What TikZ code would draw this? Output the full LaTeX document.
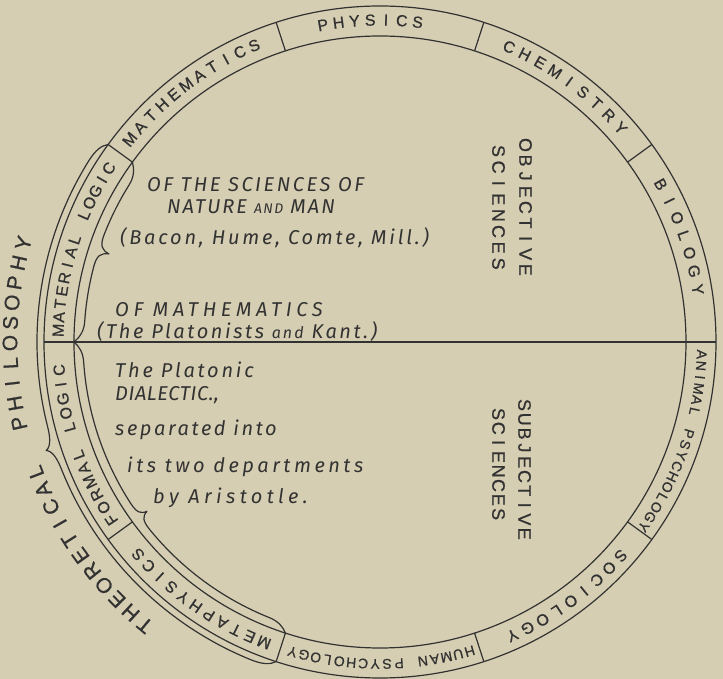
\documentclass[tikz,border=0pt]{standalone}
\usepackage{fontspec}
\setmainfont{Liberation Sans}
\newfontfamily\ringfont[FakeBold=0.8]{Liberation Sans}
\newfontfamily\handfont{Fira Sans}
\definecolor{bg}{RGB}{214,206,178}
\definecolor{ink}{RGB}{50,50,50}
\tikzset{
  ringlbl/.style={font=\ringfont\fontsize{16}{16}\selectfont, inner sep=0pt, text height=11pt, text depth=0pt, anchor=center},
  smallring/.style={ringlbl, font=\ringfont\fontsize{14}{14}\selectfont, text height=9.7pt},
  biglbl/.style={ringlbl, font=\ringfont\fontsize{21}{21}\selectfont, text height=14.5pt},
  vlbl/.style={font=\ringfont\fontsize{18}{18}\selectfont, inner sep=0pt, text height=12.4pt, text depth=0pt, anchor=center},
  hand/.style={font=\handfont\itshape\fontsize{20}{20}\selectfont, inner sep=0pt, anchor=west},
  ring/.style={line width=1.2pt},
  bracepath/.style={line width=1.2pt, line join=round, line cap=round},
}
\newcommand\ls[1]{\addfontfeature{LetterSpace=#1}}
% name, center angle, radius, step, count, letters, style
\newcommand\ringword[7]{%
  \foreach \ch [count=\i] in {#6}{%
    \pgfmathsetmacro\rang{#2+((#5+1)/2-\i)*#4}%
    \node[#7, rotate=\rang-90] (#1\i) at (\rang:#3) {\ch};}}
% name, x, first y, step, letters
\newcommand\vword[5]{%
  \foreach \ch [count=\i] in {#5}{%
    \node[vlbl, rotate=-90] (#1\i) at (#2,{#3-(\i-1)*#4}) {\ch};}}
\begin{document}
\begin{tikzpicture}[x=1pt,y=1pt,color=ink]
\fill[bg] (-380,-337) rectangle (343,342);
\useasboundingbox (-380,-337) rectangle (343,342);

% ring
\draw[ring] (0,0) circle[radius=336];
\draw[ring] (0,0) circle[radius=306];
\coordinate (L) at (180:336);
\coordinate (R) at (0:336);
\draw[ring] (L) -- (R);
\foreach \a in {36,72,108,144,216,252,288,324}
  \draw[ring] (\a:306) -- (\a:336);

% ring labels
\ringword{mat}{127}{322}{2.8}{11}{M,A,T,H,E,M,A,T,I,C,S}{ringlbl}
\ringword{phy}{91.75}{322}{2.82}{7}{P,H,Y,S,I,C,S}{ringlbl}
\ringword{che}{54}{322}{3.09}{9}{C,H,E,M,I,S,T,R,Y}{ringlbl}
\ringword{bio}{19.35}{322}{3.32}{7}{B,I,O,L,O,G,Y}{ringlbl}
\ringword{ani}{-18.6}{322}{2.05}{17}{A,N,I,M,A,L,{},P,S,Y,C,H,O,L,O,G,Y}{smallring}
\ringword{soc}{-53.65}{322}{3.01}{9}{S,O,C,I,O,L,O,G,Y}{ringlbl}
\ringword{hum}{-89.8}{322}{2.13}{16}{H,U,M,A,N,{},P,S,Y,C,H,O,L,O,G,Y}{smallring}
\ringword{met}{235.1}{322}{2.76}{11}{M,E,T,A,P,H,Y,S,I,C,S}{ringlbl}
\ringword{for}{199.25}{322}{2.59}{12}{F,O,R,M,A,L,{},L,O,G,I,C}{ringlbl}
\ringword{mal}{162.65}{322}{2.35}{14}{M,A,T,E,R,I,A,L,{},L,O,G,I,C}{ringlbl}

% outer label
\ringword{the}{215.5}{368}{2.96}{11}{T,H,E,O,R,E,T,I,C,A,L}{biglbl}
\ringword{phi}{178.6}{370}{3.13}{10}{P,H,I,L,O,S,O,P,H,Y}{biglbl}

% outer brace
\draw[bracepath] (144:336) .. controls (144.8:341) and (146:343) .. (148:343)
  arc[start angle=148, end angle=194, radius=343]
  .. controls (196:343) and (197.6:345) .. (198:351)
  .. controls (198.4:345) and (200:343) .. (202:343)
  arc[start angle=202, end angle=248, radius=343]
  .. controls (250:343) and (251.2:341) .. (252:336);

% material logic brace
\draw[bracepath] (144:306) .. controls (144.8:301) and (146:296) .. (148:296)
  arc[start angle=148, end angle=159, radius=296]
  .. controls (161:296) and (161.7:293) .. (162:285)
  .. controls (162.3:293) and (163:296) .. (165:296)
  arc[start angle=165, end angle=176, radius=296]
  .. controls (178:296) and (179.2:301) .. (180:306);

% formal logic + metaphysics brace
\draw[bracepath] (180:306) .. controls (180.8:301) and (182:297) .. (184:297)
  arc[start angle=184, end angle=213, radius=297]
  .. controls (215:297) and (215.7:295) .. (216:288)
  .. controls (216.3:295) and (217:297) .. (219:297)
  arc[start angle=219, end angle=248, radius=297]
  .. controls (250:297) and (251.2:301) .. (252:306);

% inner texts
\node[hand] (t1) at (-233,157) {\ls{12.9}OF THE SCIENCES OF};
\node[hand] (t2) at (-213,135) {\ls{10}NATURE {\fontsize{14}{14}\selectfont AND} MAN};
\node[hand] (t3) at (-260,104) {\ls{14}(Bacon, Hume, Comte, Mill.)};
\node[hand] (t4) at (-265,32) {\ls{23}OF MATHEMATICS};
\node[hand] (t5) at (-283,10) {\ls{13}(The Platonists {\fontsize{16}{16}\selectfont and} Kant.)};
\node[hand] (t6) at (-265,-28) {\ls{14}The Platonic};
\node[hand] (t7) at (-265,-53) {\ls{3}DIALECTIC.,};
\node[hand] (t8) at (-265,-88) {\ls{13}separated into};
\node[hand] (t9) at (-253,-125) {\ls{17.5}its two departments};
\node[hand] (t10) at (-227,-156) {\ls{22}by Aristotle.};

% vertical labels
\vword{obj}{145.5}{197}{15.6}{O,B,J,E,C,T,I,V,E}
\vword{sca}{118.5}{191}{16.1}{S,C,I,E,N,C,E,S}
\vword{sub}{144.5}{-63}{14.3}{S,U,B,J,E,C,T,I,V,E}
\vword{scb}{118.5}{-72}{14.3}{S,C,I,E,N,C,E,S}
\end{tikzpicture}
\end{document}
